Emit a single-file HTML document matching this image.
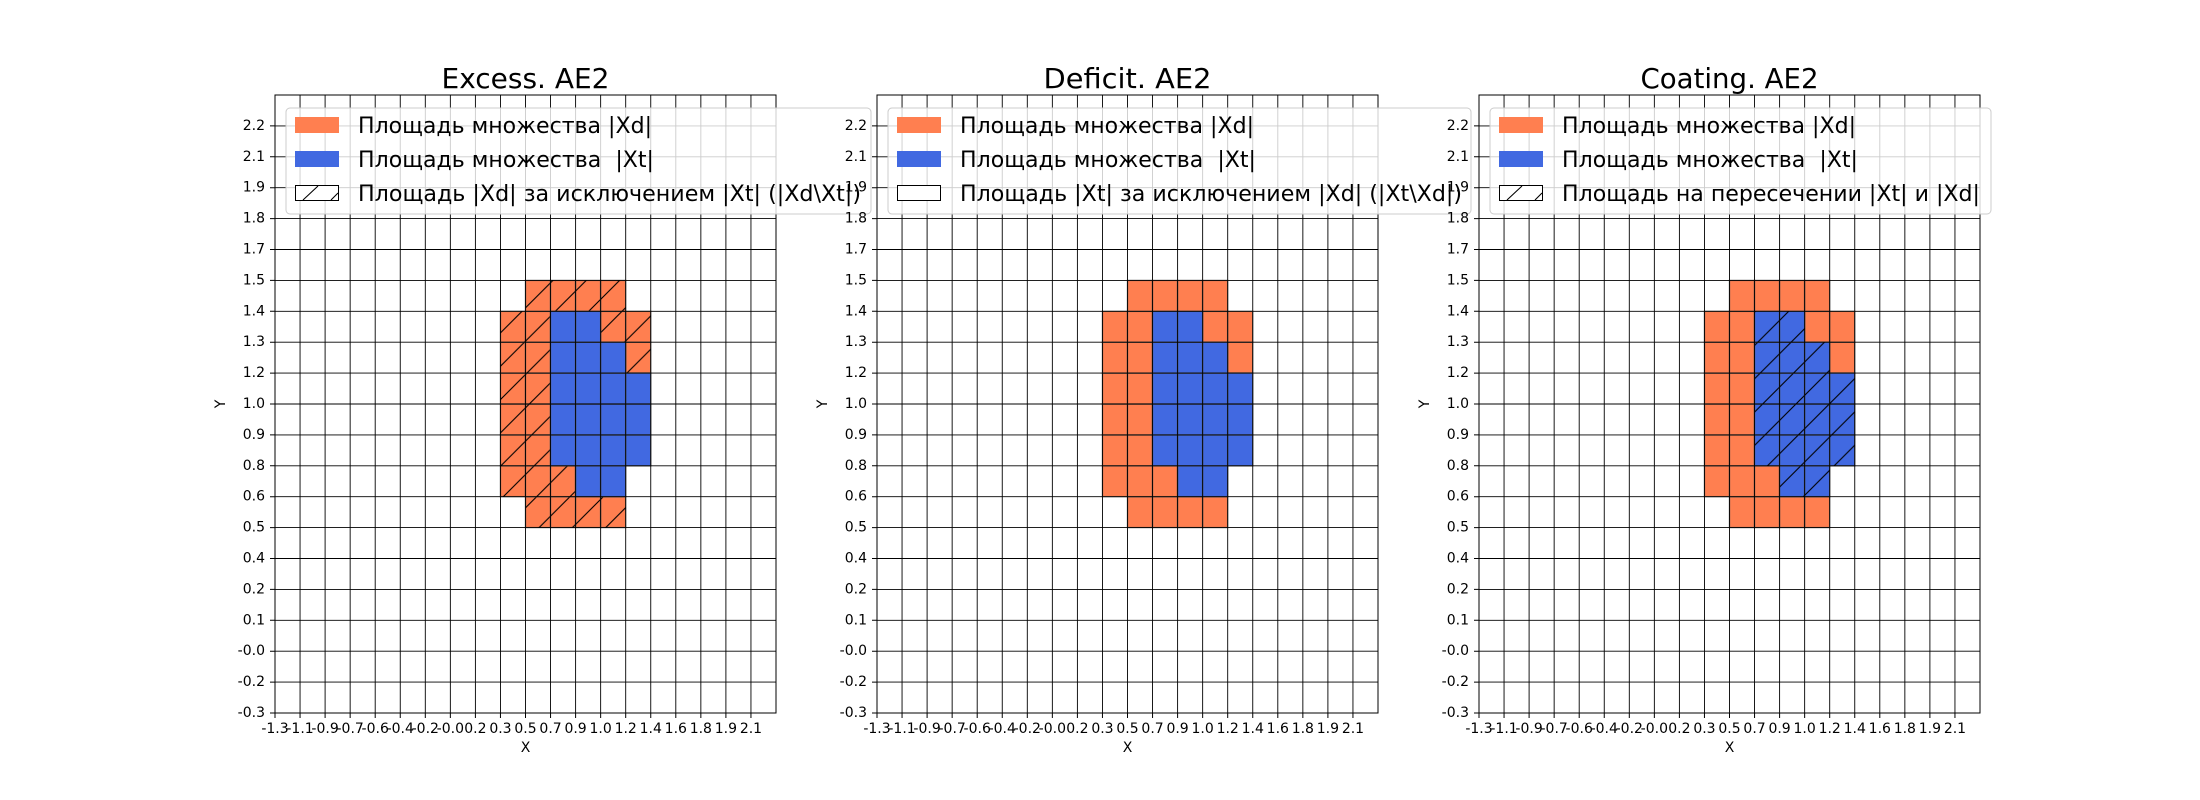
<!DOCTYPE html>
<html><head><meta charset="utf-8">
<style>
html,body{margin:0;padding:0;background:#fff;}
svg{display:block;}
text{font-family:"DejaVu Sans","Liberation Sans",sans-serif;fill:#000;}
.t{font-size:14px;}
.yl{text-anchor:end;}
.xl{text-anchor:middle;}
.lg{font-size:22px;}
.ti{font-size:28px;text-anchor:middle;}
</style></head>
<body>
<svg id="svg" width="2200" height="800" viewBox="0 0 2200 800" xmlns="http://www.w3.org/2000/svg">
<defs>
<pattern id="h" patternUnits="userSpaceOnUse" width="33.333" height="33.333">
<path d="M0,33.333 L33.333,0 M-5,5 L5,-5 M28.333,38.333 L38.333,28.333" stroke="#000" stroke-width="1.1" fill="none"/>
</pattern>
<pattern id="hl" patternUnits="userSpaceOnUse" width="33.333" height="33.333" x="0" y="0">
<path d="M0,33.333 L33.333,0 M-5,5 L5,-5 M28.333,38.333 L38.333,28.333" stroke="#000" stroke-width="1.1" fill="none"/>
</pattern>
</defs>
<rect width="2200" height="800" fill="#fff"/>

<!-- PLOT 1 -->
<g id="s0"></g>
<g transform="translate(275,0)">
<text class="ti" x="250.5" y="88" textLength="168" lengthAdjust="spacingAndGlyphs">Excess. AE2</text>
<g class="t yl">
<text x="-10" y="717">-0.3</text><text x="-10" y="686.1">-0.2</text><text x="-10" y="655.2">-0.0</text><text x="-10" y="624.3">0.1</text><text x="-10" y="593.4">0.2</text><text x="-10" y="562.5">0.4</text><text x="-10" y="531.6">0.5</text><text x="-10" y="500.7">0.6</text><text x="-10" y="469.8">0.8</text><text x="-10" y="438.9">0.9</text><text x="-10" y="408">1.0</text><text x="-10" y="377.1">1.2</text><text x="-10" y="346.2">1.3</text><text x="-10" y="315.3">1.4</text><text x="-10" y="284.4">1.5</text><text x="-10" y="253.5">1.7</text><text x="-10" y="222.6">1.8</text><text x="-10" y="191.7">1.9</text><text x="-10" y="160.8">2.1</text><text x="-10" y="129.9">2.2</text>
</g>
<g class="t xl">
<text x="0" y="733">-1.3</text><text x="25.05" y="733">-1.1</text><text x="50.1" y="733">-0.9</text><text x="75.15" y="733">-0.7</text><text x="100.2" y="733">-0.6</text><text x="125.25" y="733">-0.4</text><text x="150.3" y="733">-0.2</text><text x="175.35" y="733">-0.0</text><text x="200.4" y="733">0.2</text><text x="225.45" y="733">0.3</text><text x="250.5" y="733">0.5</text><text x="275.55" y="733">0.7</text><text x="300.6" y="733">0.9</text><text x="325.65" y="733">1.0</text><text x="350.7" y="733">1.2</text><text x="375.75" y="733">1.4</text><text x="400.8" y="733">1.6</text><text x="425.85" y="733">1.8</text><text x="450.9" y="733">1.9</text><text x="475.95" y="733">2.1</text>
</g>
<text class="t xl" x="250.5" y="752">X</text>
<text class="t xl" transform="translate(-50,404) rotate(-90)">Y</text>
<rect x="11" y="108" width="585" height="106" rx="4" fill="#fff" fill-opacity="0.8" stroke="#ccc" stroke-width="1"/>
<rect x="20" y="117" width="44" height="16" fill="#FF7F50"/>
<rect x="20" y="151" width="44" height="16" fill="#4169E1"/>
<rect x="20.5" y="185.5" width="43" height="15" fill="#fff" stroke="#000" stroke-width="1"/>
<path d="M28,200 L43,186 M56,200 L63,193" stroke="#000" stroke-width="1.1"/>
<text class="lg" x="83" y="133" textLength="294" lengthAdjust="spacingAndGlyphs">Площадь множества |Xd|</text>
<text class="lg" x="83" y="167" textLength="296" lengthAdjust="spacingAndGlyphs" xml:space="preserve">Площадь множества  |Xt|</text>
<text class="lg" x="83" y="201" textLength="503" lengthAdjust="spacingAndGlyphs">Площадь |Xd| за исключением |Xt| (|Xd\Xt|)</text>
</g>

<!-- PLOT 2 -->
<g id="s1"></g>
<g transform="translate(877,0)">
<text class="ti" x="250.5" y="88" textLength="168" lengthAdjust="spacingAndGlyphs">Deficit. AE2</text>
<g class="t yl">
<text x="-10" y="717">-0.3</text><text x="-10" y="686.1">-0.2</text><text x="-10" y="655.2">-0.0</text><text x="-10" y="624.3">0.1</text><text x="-10" y="593.4">0.2</text><text x="-10" y="562.5">0.4</text><text x="-10" y="531.6">0.5</text><text x="-10" y="500.7">0.6</text><text x="-10" y="469.8">0.8</text><text x="-10" y="438.9">0.9</text><text x="-10" y="408">1.0</text><text x="-10" y="377.1">1.2</text><text x="-10" y="346.2">1.3</text><text x="-10" y="315.3">1.4</text><text x="-10" y="284.4">1.5</text><text x="-10" y="253.5">1.7</text><text x="-10" y="222.6">1.8</text><text x="-10" y="191.7">1.9</text><text x="-10" y="160.8">2.1</text><text x="-10" y="129.9">2.2</text>
</g>
<g class="t xl">
<text x="0" y="733">-1.3</text><text x="25.05" y="733">-1.1</text><text x="50.1" y="733">-0.9</text><text x="75.15" y="733">-0.7</text><text x="100.2" y="733">-0.6</text><text x="125.25" y="733">-0.4</text><text x="150.3" y="733">-0.2</text><text x="175.35" y="733">-0.0</text><text x="200.4" y="733">0.2</text><text x="225.45" y="733">0.3</text><text x="250.5" y="733">0.5</text><text x="275.55" y="733">0.7</text><text x="300.6" y="733">0.9</text><text x="325.65" y="733">1.0</text><text x="350.7" y="733">1.2</text><text x="375.75" y="733">1.4</text><text x="400.8" y="733">1.6</text><text x="425.85" y="733">1.8</text><text x="450.9" y="733">1.9</text><text x="475.95" y="733">2.1</text>
</g>
<text class="t xl" x="250.5" y="752">X</text>
<text class="t xl" transform="translate(-50,404) rotate(-90)">Y</text>
<rect x="11" y="108" width="583" height="106" rx="4" fill="#fff" fill-opacity="0.8" stroke="#ccc" stroke-width="1"/>
<rect x="20" y="117" width="44" height="16" fill="#FF7F50"/>
<rect x="20" y="151" width="44" height="16" fill="#4169E1"/>
<rect x="20.5" y="185.5" width="43" height="15" fill="#fff" stroke="#000" stroke-width="1"/>
<text class="lg" x="83" y="133" textLength="294" lengthAdjust="spacingAndGlyphs">Площадь множества |Xd|</text>
<text class="lg" x="83" y="167" textLength="296" lengthAdjust="spacingAndGlyphs" xml:space="preserve">Площадь множества  |Xt|</text>
<text class="lg" x="83" y="201" textLength="502" lengthAdjust="spacingAndGlyphs">Площадь |Xt| за исключением |Xd| (|Xt\Xd|)</text>
</g>

<!-- PLOT 3 -->
<g id="s2"></g>
<g transform="translate(1479,0)">
<text class="ti" x="250.5" y="88" textLength="178" lengthAdjust="spacingAndGlyphs">Coating. AE2</text>
<g class="t yl">
<text x="-10" y="717">-0.3</text><text x="-10" y="686.1">-0.2</text><text x="-10" y="655.2">-0.0</text><text x="-10" y="624.3">0.1</text><text x="-10" y="593.4">0.2</text><text x="-10" y="562.5">0.4</text><text x="-10" y="531.6">0.5</text><text x="-10" y="500.7">0.6</text><text x="-10" y="469.8">0.8</text><text x="-10" y="438.9">0.9</text><text x="-10" y="408">1.0</text><text x="-10" y="377.1">1.2</text><text x="-10" y="346.2">1.3</text><text x="-10" y="315.3">1.4</text><text x="-10" y="284.4">1.5</text><text x="-10" y="253.5">1.7</text><text x="-10" y="222.6">1.8</text><text x="-10" y="191.7">1.9</text><text x="-10" y="160.8">2.1</text><text x="-10" y="129.9">2.2</text>
</g>
<g class="t xl">
<text x="0" y="733">-1.3</text><text x="25.05" y="733">-1.1</text><text x="50.1" y="733">-0.9</text><text x="75.15" y="733">-0.7</text><text x="100.2" y="733">-0.6</text><text x="125.25" y="733">-0.4</text><text x="150.3" y="733">-0.2</text><text x="175.35" y="733">-0.0</text><text x="200.4" y="733">0.2</text><text x="225.45" y="733">0.3</text><text x="250.5" y="733">0.5</text><text x="275.55" y="733">0.7</text><text x="300.6" y="733">0.9</text><text x="325.65" y="733">1.0</text><text x="350.7" y="733">1.2</text><text x="375.75" y="733">1.4</text><text x="400.8" y="733">1.6</text><text x="425.85" y="733">1.8</text><text x="450.9" y="733">1.9</text><text x="475.95" y="733">2.1</text>
</g>
<text class="t xl" x="250.5" y="752">X</text>
<text class="t xl" transform="translate(-50,404) rotate(-90)">Y</text>
<rect x="11" y="108" width="501" height="106" rx="4" fill="#fff" fill-opacity="0.8" stroke="#ccc" stroke-width="1"/>
<rect x="20" y="117" width="44" height="16" fill="#FF7F50"/>
<rect x="20" y="151" width="44" height="16" fill="#4169E1"/>
<rect x="20.5" y="185.5" width="43" height="15" fill="#fff" stroke="#000" stroke-width="1"/>
<path d="M28,200 L43,186 M56,200 L63,193" stroke="#000" stroke-width="1.1"/>
<text class="lg" x="83" y="133" textLength="294" lengthAdjust="spacingAndGlyphs">Площадь множества |Xd|</text>
<text class="lg" x="83" y="167" textLength="296" lengthAdjust="spacingAndGlyphs" xml:space="preserve">Площадь множества  |Xt|</text>
<text class="lg" x="83" y="201" textLength="418" lengthAdjust="spacingAndGlyphs">Площадь на пересечении |Xt| и |Xd|</text>
</g>
</svg>
<script>
(function(){
var NS="http://www.w3.org/2000/svg";
var LEFTS=[275,877,1479], W=501, TOP=95, BOT=713, CW=25.05, RH=30.9;
var Xd={6:[10,13],7:[9,13],8:[9,14],9:[9,14],10:[9,14],11:[9,14],12:[9,14],13:[10,13]};
var Xt={7:[12,13],8:[11,14],9:[11,14],10:[11,14],11:[11,13],12:[11,12]};
function el(n,a,p){var e=document.createElementNS(NS,n);for(var k in a)e.setAttribute(k,a[k]);p.appendChild(e);return e;}
for(var p=0;p<3;p++){
  var g=document.getElementById("s"+p), L=LEFTS[p];
  function cells(set,fill,hatch){
    for(var r in set){var a=set[r][0],b=set[r][1];
      for(var c=a;c<=b;c++){
        var x=L+c*CW, y=BOT-(+r+1)*RH;
        el("rect",{x:x,y:y,width:CW,height:RH,fill:fill,stroke:"#555","stroke-width":1.5,"stroke-opacity":0.6},g);
        if(hatch) el("rect",{x:x,y:y,width:CW,height:RH,fill:"url(#h)"},g);
      }}
  }
  cells(Xd,"#FF7F50",p==0);
  cells(Xt,"#4169E1",p==2);
  var d="";
  for(var i=0;i<=20;i++){var x=L+i*CW;d+="M"+x.toFixed(2)+","+TOP+"V"+BOT;}
  for(var j=0;j<=20;j++){var y=BOT-j*RH;d+="M"+L+","+y.toFixed(2)+"H"+(L+W);}
  el("path",{d:d,stroke:"#000","stroke-width":0.9,fill:"none"},g);
  var t="";
  for(var i=0;i<20;i++){var x=L+i*CW;t+="M"+x.toFixed(2)+","+BOT+"v5";}
  for(var j=0;j<20;j++){var y=BOT-j*RH;t+="M"+L+","+y.toFixed(2)+"h-5";}
  el("path",{d:t,stroke:"#000","stroke-width":1,fill:"none"},g);
  el("rect",{x:L,y:TOP,width:W,height:BOT-TOP,fill:"none",stroke:"#000","stroke-width":1},g);
}
})();
</script>
</body></html>
